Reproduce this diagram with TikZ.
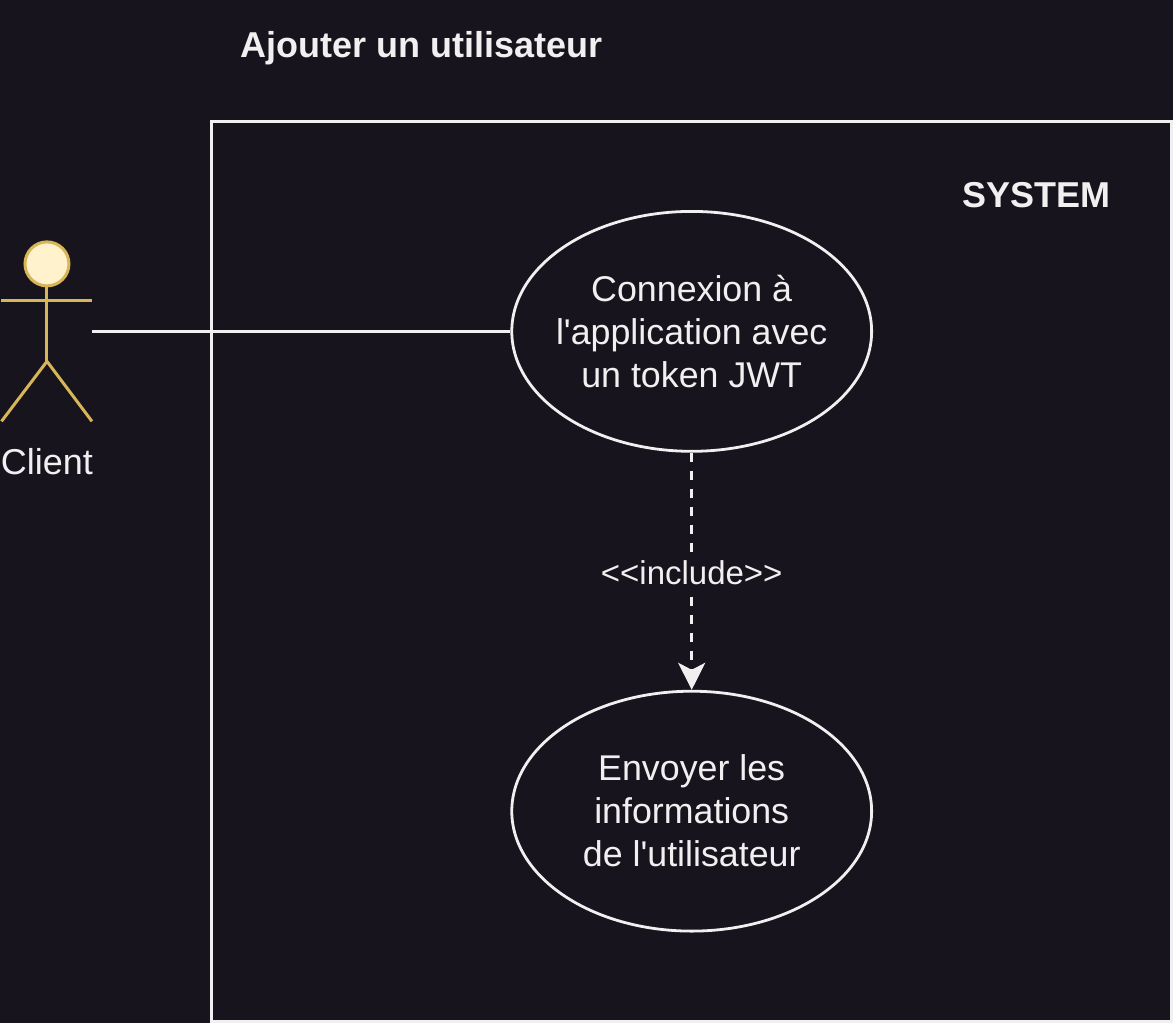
\documentclass[tikz,border=0pt]{standalone}
\usepackage{fontspec}
\setmainfont{Liberation Sans}[Ligatures=TeXOff]
\usetikzlibrary{shapes.geometric,arrows.meta}
\definecolor{bgdark}{HTML}{18141D}
\definecolor{linelight}{HTML}{F0F0F0}
\definecolor{actorline}{HTML}{D6B656}
\definecolor{actorfill}{HTML}{FFF2CC}
\tikzset{
  usecase/.style={draw=linelight,ellipse,line width=2.8pt,minimum width=360pt,minimum height=240pt,inner xsep=-20pt,inner ysep=0pt,align=center,text=linelight,font=\fontsize{35.8}{43}\selectfont},
  plaintext/.style={text=linelight,inner sep=0pt,font=\fontsize{36}{43}\selectfont},
  boldtext/.style={plaintext,font=\fontsize{36}{43}\selectfont\bfseries},
  actorstroke/.style={draw=actorline,line width=3pt},
}
\begin{document}
\begin{tikzpicture}[x=1pt,y=-1pt]
      \fill[bgdark] (0,0) rectangle (1173,1023);
      \draw[draw=linelight,line width=3pt] (211.5,1021.5) -- (211.5,121.5) -- (1171.5,121.5) -- (1171.5,1021.5) -- cycle;
      \draw
        (240,58) node[boldtext,anchor=base west] (title){Ajouter un utilisateur}
        (1036.5,207.5) node[boldtext,anchor=base] (system){SYSTEM}
        (46.5,475) node[plaintext,anchor=base] (client){Client}
        (691.5,331.5) node[usecase] (connexion){Connexion à\\l'application avec\\un token JWT}
        (691.5,811.5) node[usecase] (envoyer){Envoyer les\\informations\\de l'utilisateur};
      % actor
      \coordinate (neck) at (46.5,286);
      \coordinate (hip) at (46.5,361.5);
      \coordinate (armleft) at (1,301);
      \coordinate (armright) at (91.5,301);
      \coordinate (footleft) at (1,421.5);
      \coordinate (footright) at (91.5,421.5);
      \coordinate (clientport) at (91.5,331.5);
      \begin{scope}[actorstroke]
        \draw[fill=actorfill] (46.5,264) circle (22);
        \draw (neck) to (hip);
        \draw (armleft) to (armright);
        \draw (footleft) to (hip);
        \draw (hip) to (footright);
      \end{scope}
      \begin{scope}[draw=linelight,line width=3pt]
        \draw (clientport) to (connexion);
        \draw[dash pattern=on 9pt off 9pt,-{Stealth[length=27pt,width=27pt,inset=7pt]},color=linelight] (connexion) to
          node[plaintext,pos=.515,fill=bgdark,font=\fontsize{33}{39}\selectfont,text height=30pt,text depth=10pt] (include){<<include>>} (envoyer);
      \end{scope}
    \end{tikzpicture}
\end{document}
